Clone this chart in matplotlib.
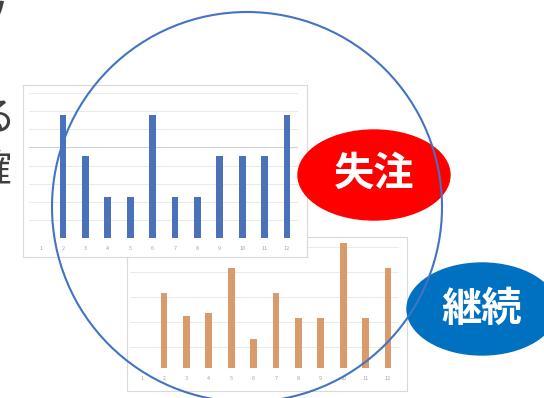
import matplotlib.pyplot as plt
from matplotlib.patches import Ellipse
import numpy as np

plt.rcParams['font.family'] = ['Noto Sans CJK JP', 'DejaVu Sans']

# data
months = list(range(1, 13))
lost_counts = [0, 3, 2, 1, 1, 3, 1, 1, 2, 2, 2, 3]
cont_counts = [0, 6, 4.2, 4.4, 8, 2.3, 6, 4, 4, 10, 4, 8]
tag_lost = '失注'
tag_cont = '継続'
side_lines = ['ソ', 'わかる', '明確']

W, H = 544, 398
fig = plt.figure(figsize=(W / 100, H / 100), dpi=100)


def px_axes(x0, y0, x1, y1, z):
    # pixel box (top-left origin) -> figure fraction axes
    return fig.add_axes([x0 / W, 1 - y1 / H, (x1 - x0) / W, (y1 - y0) / H], zorder=z)


def frame(x0, y0, x1, y1, z):
    ax = px_axes(x0, y0, x1, y1, z)
    ax.set_facecolor('white')
    ax.set_xticks([])
    ax.set_yticks([])
    for s in ax.spines.values():
        s.set_color('#D9D9D9')
        s.set_linewidth(0.8)
    return ax


def small_chart(ax, vals, color, ymax, grid, dark=None):
    ax.set_facecolor('none')
    ax.bar(months, vals, width=0.3, color=color, zorder=3, clip_on=False)
    ax.set_xlim(0.5, 12.5)
    ax.set_ylim(0, ymax)
    for i, g in enumerate(grid):
        ax.axhline(g, color='#C8C8C8' if i == dark else '#E6E6E6', lw=0.6, zorder=1)
    ax.axhline(0, color='#E6E6E6', lw=0.6, zorder=1)
    ax.set_yticks([])
    ax.set_xticks(months)
    ax.set_xticklabels([str(m) for m in months], fontsize=4, color='#A6A6A6')
    ax.tick_params(axis='x', length=0, pad=6)
    for s in ax.spines.values():
        s.set_visible(False)


# orange (継続) chart, behind
frame(127, 237, 407, 391, 1)
ax2 = px_axes(130.4, 241, 399.2, 368, 2)
small_chart(ax2, cont_counts, '#D99A6C', 10.16, [1.7, 3.7, 5.7, 7.7, 9.7])

# blue (失注) chart
frame(23, 85, 307, 257, 3)
ax1 = px_axes(29.4, 93, 298.2, 238, 4)
step = 3.54 / 8
small_chart(ax1, lost_counts, '#4A72BA', 3.54, list(np.arange(1, 9) * step), dark=4)

# overlay shapes and text
ov = fig.add_axes([0, 0, 1, 1], zorder=5)
ov.set_xlim(0, W)
ov.set_ylim(H, 0)
ov.axis('off')
ov.set_facecolor('none')

ov.add_patch(Ellipse((374, 175), 152, 90, color='#FF0000', zorder=2))
ov.add_patch(Ellipse((482, 309), 150, 92, color='#0070C0', zorder=2))
ov.add_patch(Ellipse((247, 207), 390, 390, fill=False, ec='#4472C4', lw=1.5, zorder=3))

ov.text(374, 174, tag_lost, color='white', fontsize=29, fontweight='bold',
        ha='center', va='center', zorder=4)
ov.text(482, 309, tag_cont, color='white', fontsize=29, fontweight='bold',
        ha='center', va='center', zorder=4)

for txt, xr, yc in zip(side_lines, [9, 17, 13], [18, 118, 171]):
    ov.text(xr, yc, txt, color='#404040', fontsize=28, ha='right', va='center', zorder=4)

fig.savefig('out.png', dpi=100, facecolor='white')
